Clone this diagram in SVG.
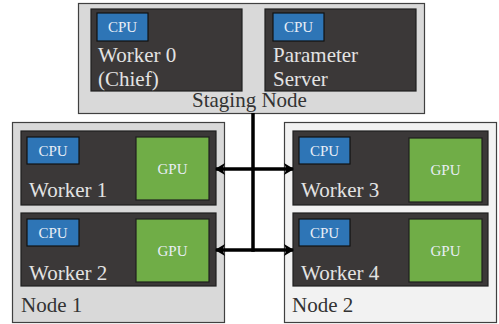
<svg xmlns="http://www.w3.org/2000/svg" width="499" height="324" viewBox="0 0 499 324">
  <style>
    .host { stroke: #404040; stroke-width: 1.2; }
    .staging { fill: #d9d9d9; }
    .node1 { fill: #d9d9d9; }
    .node2 { fill: #f2f2f2; }
    .worker { fill: #3b3838; stroke: #1e1e1e; stroke-width: 1.2; }
    .cpu { fill: #2e75b6; stroke: #111; stroke-width: 1.2; }
    .gpu { fill: #70ad47; stroke: #1e1e1e; stroke-width: 1.2; }
    .tw { font-size: 21px; fill: #e3e3e3; }
    .th { font-size: 21px; fill: #333; }
    .tc { font-size: 15px; fill: #e8eef6; text-anchor: middle; }
    .link { stroke: #000; stroke-width: 3.5; fill: none; }
  </style>
  <defs>
    <marker id="head" viewBox="0 0 10 12" refX="9" refY="6" markerWidth="10" markerHeight="12" markerUnits="userSpaceOnUse" orient="auto-start-reverse">
      <path d="M0,0 L10,6 L0,12 L2.5,6 Z" fill="#000"/>
    </marker>
  </defs>

  <!-- Staging host -->
  <g id="staging-node">
    <rect class="host staging" x="78.5" y="3.5" width="346" height="110"/>
    <text class="th" style="font-family:'Liberation Serif',serif" x="192" y="107">Staging Node</text>
  </g>
  <g id="worker-0">
    <rect class="worker" x="91" y="9" width="151" height="82"/>
    <rect class="cpu" x="97" y="13" width="51" height="28"/>
    <text class="tc" style="font-family:'Liberation Serif',serif" x="122.5" y="32">CPU</text>
    <text class="tw" style="font-family:'Liberation Serif',serif" x="98" y="62">Worker 0</text>
    <text class="tw" style="font-family:'Liberation Serif',serif" x="98" y="86">(Chief)</text>
  </g>
  <g id="parameter-server">
    <rect class="worker" x="265" y="9" width="151" height="82"/>
    <rect class="cpu" x="273" y="13" width="51" height="28"/>
    <text class="tc" style="font-family:'Liberation Serif',serif" x="298.5" y="32">CPU</text>
    <text class="tw" style="font-family:'Liberation Serif',serif" x="273" y="62">Parameter</text>
    <text class="tw" style="font-family:'Liberation Serif',serif" x="273" y="86">Server</text>
  </g>

  <!-- Node 1 -->
  <g id="node-1">
    <rect class="host node1" x="12.5" y="122.5" width="212" height="200"/>
    <text class="th" style="font-family:'Liberation Serif',serif" x="21" y="312">Node 1</text>
  </g>
  <g id="worker-1">
    <rect class="worker" x="21" y="131" width="195" height="74"/>
    <rect class="cpu" x="27" y="137" width="52" height="27"/>
    <text class="tc" style="font-family:'Liberation Serif',serif" x="53" y="156">CPU</text>
    <rect class="gpu" x="136" y="137" width="73" height="63"/>
    <text class="tc" style="font-family:'Liberation Serif',serif" x="172.5" y="174">GPU</text>
    <text class="tw" style="font-family:'Liberation Serif',serif" x="29" y="197">Worker 1</text>
  </g>
  <g id="worker-2">
    <rect class="worker" x="21" y="213" width="195" height="73"/>
    <rect class="cpu" x="27" y="219" width="52" height="27"/>
    <text class="tc" style="font-family:'Liberation Serif',serif" x="53" y="238">CPU</text>
    <rect class="gpu" x="136" y="219" width="73" height="63"/>
    <text class="tc" style="font-family:'Liberation Serif',serif" x="172.5" y="256">GPU</text>
    <text class="tw" style="font-family:'Liberation Serif',serif" x="29" y="280">Worker 2</text>
  </g>

  <!-- Node 2 -->
  <g id="node-2">
    <rect class="host node2" x="284.5" y="122.5" width="212" height="200"/>
    <text class="th" style="font-family:'Liberation Serif',serif" x="292" y="312">Node 2</text>
  </g>
  <g id="worker-3">
    <rect class="worker" x="293" y="131" width="195" height="74"/>
    <rect class="cpu" x="299" y="137" width="51" height="27"/>
    <text class="tc" style="font-family:'Liberation Serif',serif" x="324.5" y="156">CPU</text>
    <rect class="gpu" x="409" y="138" width="73" height="64"/>
    <text class="tc" style="font-family:'Liberation Serif',serif" x="445.5" y="175">GPU</text>
    <text class="tw" style="font-family:'Liberation Serif',serif" x="301" y="197">Worker 3</text>
  </g>
  <g id="worker-4">
    <rect class="worker" x="293" y="213" width="195" height="73"/>
    <rect class="cpu" x="299" y="219" width="51" height="27"/>
    <text class="tc" style="font-family:'Liberation Serif',serif" x="324.5" y="238">CPU</text>
    <rect class="gpu" x="409" y="219" width="73" height="63"/>
    <text class="tc" style="font-family:'Liberation Serif',serif" x="445.5" y="256">GPU</text>
    <text class="tw" style="font-family:'Liberation Serif',serif" x="301" y="280">Worker 4</text>
  </g>

  <!-- Interconnect -->
  <g id="connectors">
    <line class="link" x1="253" y1="113" x2="253" y2="251.75"/>
    <line class="link" x1="216" y1="169" x2="293" y2="169" marker-start="url(#head)" marker-end="url(#head)"/>
    <line class="link" x1="216" y1="250" x2="293" y2="250" marker-start="url(#head)" marker-end="url(#head)"/>
  </g>
</svg>
